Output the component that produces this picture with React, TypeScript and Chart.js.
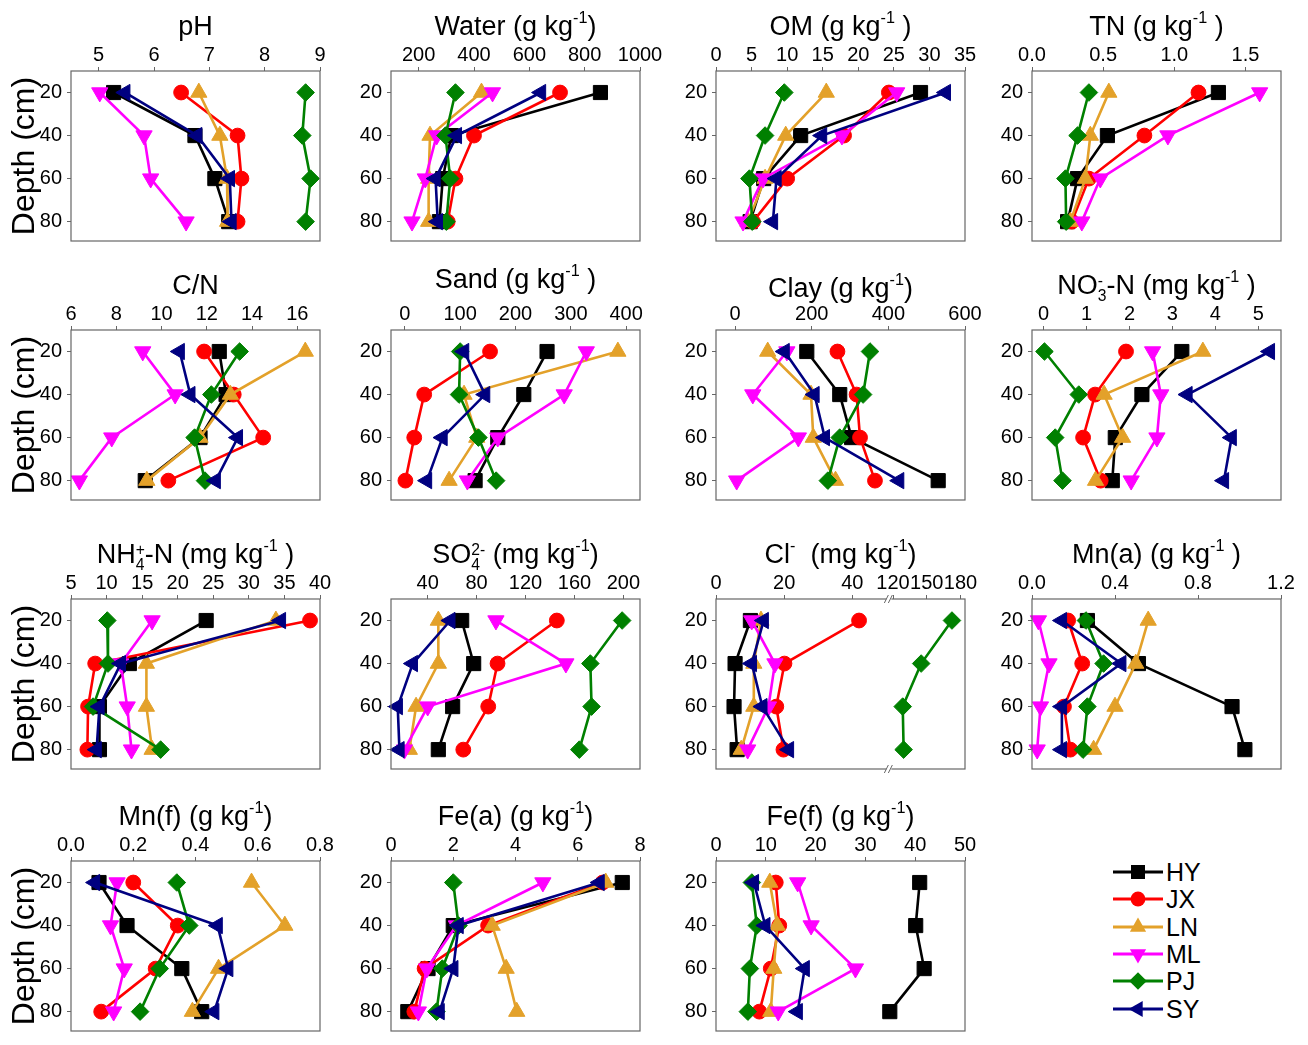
import React, { useEffect, useRef } from 'react';
import { Chart, registerables } from 'chart.js';

Chart.register(...registerables);

// ---------------- DATA ----------------
const SITES = ['HY', 'JX', 'LN', 'ML', 'PJ', 'SY'];
const DEPTHS = [20, 40, 60, 80];
const DEPTH_TICKS = [20, 40, 60, 80];

// each row: one site (HY, JX, LN, ML, PJ, SY), values at depths 20/40/60/80 cm
const PH = [
  [5.27, 6.74, 7.1, 7.35],
  [6.49, 7.51, 7.58, 7.51],
  [6.81, 7.19, 7.32, 7.33],
  [5.02, 5.82, 5.94, 6.58],
  [8.74, 8.68, 8.83, 8.74],
  [5.48, 6.78, 7.37, 7.4],
];
const WATER = [
  [857, 318, 287, 275],
  [711, 400, 333, 305],
  [427, 241, 236, 236],
  [467, 265, 224, 176],
  [333, 297, 314, 300],
  [642, 338, 261, 269],
];
const OM = [
  [28.75, 11.9, 6.7, 4.8],
  [24.3, 18.0, 10.0, 5.2],
  [15.5, 9.8, 6.9, 4.5],
  [25.4, 17.7, 6.6, 3.8],
  [9.6, 6.9, 4.7, 5.1],
  [32.3, 14.9, 8.5, 8.0],
];
const TN = [
  [1.31, 0.53, 0.32, 0.25],
  [1.17, 0.79, 0.4, 0.28],
  [0.54, 0.41, 0.375, 0.27],
  [1.6, 0.955, 0.48, 0.35],
  [0.4, 0.32, 0.235, 0.24],
  [null, null, null, null],
];
const CN = [
  [12.55, 12.85, 11.7, 9.28],
  [11.88, 13.19, 14.49, 10.3],
  [16.35, 13.04, 11.7, 9.35],
  [9.17, 10.6, 7.8, 6.37],
  [13.45, 12.2, 11.46, 11.92],
  [10.8, 11.27, 13.37, 12.39],
];
const SAND = [
  [257, 215, 168, 127],
  [154, 35, 17, 1],
  [385, 107, 130, 80],
  [328, 288, 168, 113],
  [100, 98, 133, 165],
  [107, 145, 68, 40],
];
const CLAY = [
  [187, 273, 304, 530],
  [267, 317, 326, 365],
  [85, 198, 204, 262],
  [135, 46, 165, 4],
  [352, 334, 273, 242],
  [129, 207, 234, 428],
];
const NO3N = [
  [3.22, 2.29, 1.67, 1.6],
  [1.92, 1.2, 0.92, 1.33],
  [3.71, 1.41, 1.84, 1.21],
  [2.54, 2.73, 2.64, 2.04],
  [0.02, 0.82, 0.27, 0.44],
  [5.27, 3.35, 4.38, 4.2],
];
const NH4N = [
  [24.0, 13.2, 9.0, 9.0],
  [38.6, 8.4, 7.4, 7.3],
  [33.8, 15.6, 15.6, 16.4],
  [16.4, 12.0, 12.9, 13.5],
  [10.1, 10.2, 8.1, 17.6],
  [34.5, 12.0, 9.0, 8.6],
];
const SO4 = [
  [67.8, 77.6, 60.4, 48.7],
  [145.6, 97.1, 89.5, 69.1],
  [48.7, 48.7, 30.5, 25],
  [95.8, 153, 40, 21],
  [199, 173, 174, 164],
  [58.5, 27.8, 15.5, 16.9],
];
const CL = [
  [10.1, 5.6, 5.3, 6.2],
  [42, 20.1, 17.7, 19.8],
  [13.2, 11.1, 11.1, 7.4],
  [10.5, 17.3, 15.4, 9.3],
  [172.4, 145, 128.6, 129.4],
  [14, 10.5, 13.6, 21.4],
];
const MNA = [
  [0.267, 0.513, 0.964, 1.026],
  [0.174, 0.242, 0.154, 0.185],
  [0.56, 0.5, 0.4, 0.297],
  [0.031, 0.082, 0.041, 0.025],
  [0.26, 0.345, 0.267, 0.246],
  [0.144, 0.43, 0.144, 0.144],
];
const MNF = [
  [0.09, 0.18, 0.356, 0.42],
  [0.2, 0.343, 0.272, 0.097],
  [0.58, 0.687, 0.474, 0.39],
  [0.148, 0.127, 0.171, 0.137],
  [0.34, 0.38, 0.285, 0.222],
  [0.077, 0.471, 0.505, 0.46],
];
const FEA = [
  [7.43, 2.0, 1.19, 0.54],
  [6.8, 3.12, 1.08, 0.75],
  [6.9, 3.25, 3.7, 4.04],
  [4.88, 2.1, 1.15, 0.88],
  [2.0, 2.17, 1.65, 1.46],
  [6.7, 2.17, 2.0, 1.56],
];
const FEF = [
  [40.9, 40.1, 41.8, 34.9],
  [12.0, 12.7, 11.0, 8.7],
  [10.8, 12.3, 11.6, 11.0],
  [16.4, 19.1, 28.0, 12.5],
  [7.2, 8.2, 6.8, 6.4],
  [7.6, 9.9, 17.8, 16.4],
];

// tick labels of the top axes
const TICKS_PH = [5, 6, 7, 8, 9];
const TICKS_WATER = [200, 400, 600, 800, 1000];
const TICKS_OM = [0, 5, 10, 15, 20, 25, 30, 35];
const TICKS_TN = [0, 0.5, 1.0, 1.5];
const TICKS_CN = [6, 8, 10, 12, 14, 16];
const TICKS_SAND = [0, 100, 200, 300, 400];
const TICKS_CLAY = [0, 200, 400, 600];
const TICKS_NO3 = [0, 1, 2, 3, 4, 5];
const TICKS_NH4 = [5, 10, 15, 20, 25, 30, 35, 40];
const TICKS_SO4 = [40, 80, 120, 160, 200];
const TICKS_CL = [0, 20, 40, 120, 150, 180];
const TICKS_MNA = [0, 0.4, 0.8, 1.2];
const TICKS_MNF = [0, 0.2, 0.4, 0.6, 0.8];
const TICKS_FEA = [0, 2, 4, 6, 8];
const TICKS_FEF = [0, 10, 20, 30, 40, 50];

// broken axis of the Cl- panel
const CL_BREAK_LOW = 50;
const CL_BREAK_HIGH = 114;
const CL_COMPRESS = 0.33;
const clT = (v: number) => (v <= CL_BREAK_LOW ? v : CL_BREAK_LOW + (v - CL_BREAK_HIGH) * CL_COMPRESS);

// ---------------- STYLE / LAYOUT ----------------
const FONT = '"Liberation Sans", Arial, Helvetica, sans-serif';
const COLORS = ['#000000', '#FF0000', '#E3A12A', '#FF00FF', '#008000', '#000080'];
const PSTYLE = ['rect', 'circle', 'triangle', 'triangle', 'rectRot', 'triangle'];
const PROT = [0, 0, 0, 180, 0, -90];
const PRAD = [10, 7.4, 9.4, 9.4, 8.8, 9.4];
const AXIS_COLOR = '#666666';

const COL_X = [71, 391, 716, 1032];
const ROW_Y = [71, 330, 599, 861];
const BOX_W = 249;
const BOX_H = 181;
const HX = 32;
const PAD_R = 30;
const PAD_B = 6;

const Sup = ({ children }: { children: React.ReactNode }) => (
  <sup style={{ fontSize: '0.6em', verticalAlign: '0.75em', lineHeight: 0 }}>{children}</sup>
);
const SubSup = ({ sub, sup }: { sub: string; sup: string }) => (
  <span
    style={{
      display: 'inline-block',
      fontSize: '0.58em',
      lineHeight: '0.95em',
      verticalAlign: '-0.45em',
      textAlign: 'left',
    }}
  >
    <span style={{ display: 'block' }}>{sup}</span>
    <span style={{ display: 'block' }}>{sub}</span>
  </span>
);

type PanelDef = {
  title: React.ReactNode;
  data: (number | null)[][];
  min: number;
  max: number;
  ticks: number[];
  dec: number;
  col: number;
  row: number;
  broken?: boolean;
  titleDy?: number;
};

const PANELS: PanelDef[] = [
  { title: <>pH</>, data: PH, min: 4.5, max: 9, ticks: TICKS_PH, dec: 0, col: 0, row: 0 },
  { title: <>Water (g kg<Sup>-1</Sup>)</>, data: WATER, min: 100, max: 1000, ticks: TICKS_WATER, dec: 0, col: 1, row: 0 },
  { title: <>OM (g kg<Sup>-1</Sup> )</>, data: OM, min: 0, max: 35, ticks: TICKS_OM, dec: 0, col: 2, row: 0 },
  { title: <>TN (g kg<Sup>-1</Sup> )</>, data: TN, min: 0, max: 1.75, ticks: TICKS_TN, dec: 1, col: 3, row: 0 },
  { title: <>C/N</>, data: CN, min: 6, max: 17, ticks: TICKS_CN, dec: 0, col: 0, row: 1 },
  { title: <>Sand (g kg<Sup>-1</Sup> )</>, data: SAND, min: -25, max: 425, ticks: TICKS_SAND, dec: 0, col: 1, row: 1, titleDy: -6 },
  { title: <>Clay (g kg<Sup>-1</Sup>)</>, data: CLAY, min: -50, max: 600, ticks: TICKS_CLAY, dec: 0, col: 2, row: 1, titleDy: 3 },
  { title: <>NO<SubSup sub="3" sup="-" />-N (mg kg<Sup>-1</Sup> )</>, data: NO3N, min: -0.27, max: 5.53, ticks: TICKS_NO3, dec: 0, col: 3, row: 1 },
  { title: <>NH<SubSup sub="4" sup="+" />-N (mg kg<Sup>-1</Sup> )</>, data: NH4N, min: 5, max: 40, ticks: TICKS_NH4, dec: 0, col: 0, row: 2 },
  { title: <>SO<SubSup sub="4" sup="2-" /> (mg kg<Sup>-1</Sup>)</>, data: SO4, min: 10, max: 213.6, ticks: TICKS_SO4, dec: 0, col: 1, row: 2 },
  { title: <>Cl<Sup>-</Sup>  (mg kg<Sup>-1</Sup>)</>, data: CL, min: 0, max: clT(184), ticks: TICKS_CL, dec: 0, col: 2, row: 2, broken: true },
  { title: <>Mn(a) (g kg<Sup>-1</Sup> )</>, data: MNA, min: 0, max: 1.2, ticks: TICKS_MNA, dec: 1, col: 3, row: 2 },
  { title: <>Mn(f) (g kg<Sup>-1</Sup>)</>, data: MNF, min: 0, max: 0.8, ticks: TICKS_MNF, dec: 1, col: 0, row: 3 },
  { title: <>Fe(a) (g kg<Sup>-1</Sup>)</>, data: FEA, min: 0, max: 8, ticks: TICKS_FEA, dec: 0, col: 1, row: 3 },
  { title: <>Fe(f) (g kg<Sup>-1</Sup>)</>, data: FEF, min: 0, max: 50, ticks: TICKS_FEF, dec: 0, col: 2, row: 3 },
];

const boxPlugin = {
  id: 'boxFrame',
  afterDraw(chart: any, _args: any, opts: any) {
    const { ctx, chartArea } = chart;
    const { left, top, right, bottom } = chartArea;
    ctx.save();
    ctx.strokeStyle = AXIS_COLOR;
    ctx.lineWidth = 1.2;
    ctx.strokeRect(left, top, right - left, bottom - top);
    if (opts && opts.breakAt != null) {
      const x = chart.scales.x.getPixelForValue(opts.breakAt);
      [top, bottom].forEach((y: number) => {
        ctx.fillStyle = '#ffffff';
        ctx.fillRect(x - 2, y - 2, 5, 4);
        ctx.strokeStyle = AXIS_COLOR;
        ctx.lineWidth = 1;
        ctx.beginPath();
        ctx.moveTo(x - 4, y + 4);
        ctx.lineTo(x, y - 4);
        ctx.moveTo(x, y + 4);
        ctx.lineTo(x + 4, y - 4);
        ctx.stroke();
      });
    }
    ctx.restore();
  },
};

function Panel({ p }: { p: PanelDef }) {
  const ref = useRef<HTMLCanvasElement>(null);
  const wy = p.col === 0 ? 71 : 44;
  const W = wy + BOX_W + PAD_R;
  const H = HX + BOX_H + PAD_B;
  const boxLeft = COL_X[p.col];
  const boxTop = ROW_Y[p.row];

  useEffect(() => {
    if (!ref.current) return;
    const tf = p.broken ? clT : (v: number) => v;
    const datasets = SITES.map((s, i) => ({
      label: s,
      data: DEPTHS.map((d, j) => ({ x: p.data[i][j] == null ? null : tf(p.data[i][j] as number), y: d })).filter(
        (pt) => pt.x != null
      ),
      showLine: true,
      borderColor: COLORS[i],
      backgroundColor: COLORS[i],
      pointBackgroundColor: COLORS[i],
      pointBorderColor: COLORS[i],
      pointStyle: PSTYLE[i],
      pointRotation: PROT[i],
      pointRadius: PRAD[i],
      pointBorderWidth: 1,
      borderWidth: 2.6,
      tension: 0,
      order: SITES.length - i,
      clip: false as any,
    }));
    const tickLabels = p.ticks.map((v) => v.toFixed(p.dec));
    const chart = new Chart(ref.current, {
      type: 'scatter',
      data: { datasets: datasets as any },
      options: {
        responsive: false,
        animation: false,
        devicePixelRatio: 1,
        layout: { padding: { left: 0, top: 0, right: PAD_R, bottom: PAD_B } },
        plugins: {
          legend: { display: false },
          tooltip: { enabled: false },
          boxFrame: p.broken ? { breakAt: (CL_BREAK_LOW + clT(CL_BREAK_HIGH)) / 2 + 0.6 } : {},
        } as any,
        scales: {
          x: {
            type: 'linear',
            position: 'top',
            min: p.min,
            max: p.max,
            afterBuildTicks: (scale: any) => {
              scale.ticks = p.ticks.map((v) => ({ value: tf(v) }));
            },
            afterFit: (scale: any) => {
              scale.height = HX;
            },
            ticks: {
              autoSkip: false,
              maxRotation: 0,
              padding: 0,
              color: '#000',
              font: { family: FONT, size: 20 },
              callback: (_v: any, idx: number) => tickLabels[idx],
            },
            grid: { display: true, drawOnChartArea: false, drawTicks: true, tickLength: 4, color: AXIS_COLOR },
            border: { display: false },
          },
          y: {
            type: 'linear',
            reverse: true,
            min: 10,
            max: 89,
            afterBuildTicks: (scale: any) => {
              scale.ticks = DEPTH_TICKS.map((v) => ({ value: v }));
            },
            afterFit: (scale: any) => {
              scale.width = wy;
            },
            ticks: {
              autoSkip: false,
              padding: 5,
              color: '#000',
              font: { family: FONT, size: 20 },
              callback: (v: any) => String(v),
            },
            grid: { display: true, drawOnChartArea: false, drawTicks: true, tickLength: 4, color: AXIS_COLOR },
            border: { display: false },
            title: {
              display: p.col === 0,
              text: 'Depth (cm)',
              color: '#000',
              font: { family: FONT, size: 32 },
              padding: { top: 6, bottom: 0 },
            },
          },
        },
      } as any,
      plugins: [boxPlugin],
    });
    return () => chart.destroy();
  }, []);

  return (
    <>
      <canvas
        ref={ref}
        width={W}
        height={H}
        style={{ position: 'absolute', left: boxLeft - wy, top: boxTop - HX, width: W, height: H }}
      />
      <div
        style={{
          position: 'absolute',
          left: boxLeft - 40,
          width: BOX_W + 80,
          top: boxTop - 45 - 17 + (p.titleDy || 0),
          height: 34,
          lineHeight: '34px',
          textAlign: 'center',
          fontFamily: FONT,
          fontSize: 27,
          color: '#000',
          whiteSpace: 'pre',
        }}
      >
        {p.title}
      </div>
    </>
  );
}

function LegendMarker({ i }: { i: number }) {
  const c = COLORS[i];
  const cx = 25;
  const cy = 14;
  let m: React.ReactNode = null;
  if (i === 0) m = <rect x={cx - 7} y={cy - 7} width={14} height={14} fill={c} />;
  else if (i === 1) m = <circle cx={cx} cy={cy} r={7.4} fill={c} />;
  else if (i === 2) m = <polygon points={`${cx},${cy - 9.4} ${cx + 8.1},${cy + 4.7} ${cx - 8.1},${cy + 4.7}`} fill={c} />;
  else if (i === 3) m = <polygon points={`${cx},${cy + 9.4} ${cx + 8.1},${cy - 4.7} ${cx - 8.1},${cy - 4.7}`} fill={c} />;
  else if (i === 4) m = <polygon points={`${cx},${cy - 8.8} ${cx + 8.8},${cy} ${cx},${cy + 8.8} ${cx - 8.8},${cy}`} fill={c} />;
  else m = <polygon points={`${cx - 9.4},${cy} ${cx + 4.7},${cy - 8.1} ${cx + 4.7},${cy + 8.1}`} fill={c} />;
  return (
    <svg width={50} height={28} style={{ display: 'block' }}>
      <line x1={0} y1={cy} x2={50} y2={cy} stroke={c} strokeWidth={3} />
      {m}
    </svg>
  );
}

export default function App() {
  return (
    <div
      style={{
        position: 'absolute',
        left: 0,
        top: 0,
        width: 1308,
        height: 1045,
        overflow: 'hidden',
        background: '#ffffff',
        fontFamily: FONT,
      }}
    >
      {PANELS.map((p, k) => (
        <Panel key={k} p={p} />
      ))}
      {SITES.map((s, i) => (
        <div
          key={s}
          style={{
            position: 'absolute',
            left: 1113,
            top: 872 + i * 27.3 - 14,
            height: 28,
            display: 'flex',
            alignItems: 'center',
          }}
        >
          <LegendMarker i={i} />
          <span style={{ fontSize: 25, marginLeft: 3, lineHeight: '28px', color: '#000' }}>{s}</span>
        </div>
      ))}
    </div>
  );
}
